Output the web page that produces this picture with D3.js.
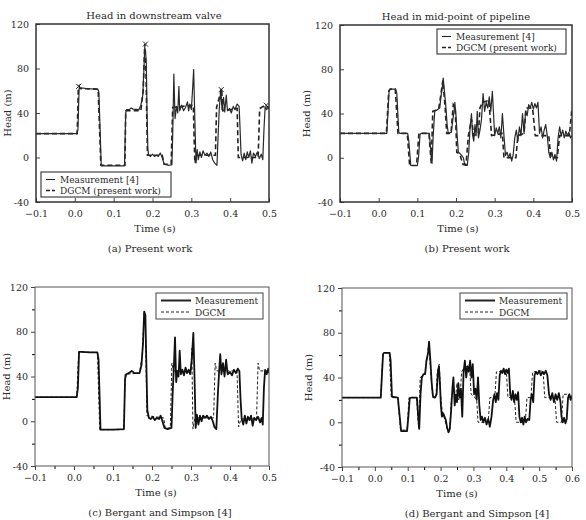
<!DOCTYPE html>
<html>
<head>
<meta charset="utf-8">
<script src="https://cdn.jsdelivr.net/npm/d3@7"></script>
<style>
  body { margin: 0; background: #fff; }
  text { font-family: "DejaVu Serif", serif; fill: #2a2a2a; }
</style>
</head>
<body>
<div id="canvas"></div>
<script>
// Time (s), Head (m) pairs
var aMeas = [[-0.1,21.5],[0.005,21.5],[0.008,25],[0.011,62],[0.015,62.5],[0.03,62],[0.05,61.5],[0.06,61],[0.062,58],[0.068,-7.5],[0.09,-7.5],[0.128,-7.5],[0.131,40],[0.133,43],[0.14,43],[0.145,44.5],[0.15,43.5],[0.165,43],[0.17,47],[0.175,56],[0.178,80],[0.18,99],[0.182,96],[0.184,85],[0.186,40],[0.188,8],[0.19,2],[0.195,1],[0.2,3],[0.205,1],[0.21,2],[0.215,1],[0.22,4],[0.225,0],[0.23,-6],[0.24,-7],[0.25,-6.5],[0.252,20],[0.255,75],[0.258,35],[0.262,46],[0.265,40],[0.268,64],[0.27,42],[0.275,47],[0.28,42],[0.285,45],[0.29,50],[0.293,42],[0.296,48],[0.3,43],[0.303,60],[0.306,79],[0.309,35],[0.312,-5],[0.315,7],[0.318,-2],[0.322,5],[0.326,0],[0.33,6],[0.335,2],[0.34,4],[0.345,1],[0.35,5],[0.355,-2],[0.36,-5],[0.366,-7],[0.369,20],[0.372,44],[0.376,61],[0.379,43],[0.383,54],[0.386,41],[0.39,56],[0.393,42],[0.398,44],[0.403,40],[0.408,46],[0.412,43],[0.418,48],[0.423,46],[0.425,30],[0.428,3],[0.432,-3],[0.436,4],[0.44,-2],[0.444,5],[0.448,0],[0.452,6],[0.456,-5],[0.46,4],[0.465,1],[0.47,5],[0.475,-1],[0.48,3],[0.484,-2],[0.487,25],[0.49,45],[0.494,43],[0.497,46],[0.5,44]];
var aDgcm = [[-0.1,21.5],[0.006,21.5],[0.009,62],[0.011,64],[0.013,62],[0.06,61.5],[0.067,-7],[0.129,-7],[0.131,42],[0.17,42],[0.176,60],[0.18,102],[0.183,80],[0.187,2],[0.225,2],[0.23,-6],[0.248,-6],[0.252,45],[0.305,47],[0.309,-5],[0.315,2],[0.362,2],[0.365,45],[0.378,62],[0.381,42],[0.418,44],[0.421,0],[0.472,0],[0.476,44],[0.49,47],[0.5,44]];
var aMarks = [[0.01,64],[0.182,102],[0.377,61],[0.493,47]];

var bMeas = [[-0.1,22],[0.021,22],[0.024,40],[0.027,61],[0.03,62],[0.044,62],[0.047,58],[0.052,23],[0.055,22],[0.075,22],[0.078,15],[0.083,-7],[0.1,-7],[0.103,0],[0.107,21],[0.11,22],[0.131,22],[0.134,10],[0.138,-5],[0.141,20],[0.145,42],[0.15,43],[0.158,45],[0.161,55],[0.164,62],[0.167,72],[0.17,60],[0.173,50],[0.177,30],[0.18,22],[0.188,23],[0.192,35],[0.195,42],[0.197,50],[0.2,38],[0.203,20],[0.206,5],[0.21,4],[0.215,2],[0.219,0],[0.223,-7],[0.229,-7],[0.233,5],[0.236,25],[0.24,40],[0.243,20],[0.246,15],[0.249,30],[0.252,20],[0.255,42],[0.258,18],[0.262,25],[0.266,35],[0.27,58],[0.274,42],[0.278,50],[0.282,45],[0.286,55],[0.29,42],[0.294,60],[0.297,40],[0.3,20],[0.304,27],[0.308,22],[0.312,28],[0.316,18],[0.32,40],[0.324,20],[0.328,2],[0.332,5],[0.336,0],[0.34,4],[0.344,-3],[0.348,3],[0.352,18],[0.356,25],[0.36,15],[0.364,28],[0.368,20],[0.372,40],[0.376,22],[0.38,42],[0.384,38],[0.388,48],[0.392,45],[0.396,50],[0.4,44],[0.404,49],[0.408,45],[0.412,50],[0.416,22],[0.42,28],[0.424,18],[0.428,25],[0.432,30],[0.436,20],[0.44,5],[0.444,0],[0.448,5],[0.452,-2],[0.456,3],[0.46,-3],[0.464,18],[0.468,28],[0.472,20],[0.476,25],[0.48,18],[0.484,24],[0.488,20],[0.492,23],[0.496,18],[0.5,20]];
var bDgcm = [[-0.1,22],[0.02,22],[0.026,60],[0.03,62],[0.043,62],[0.05,22],[0.074,22],[0.08,-7],[0.098,-7],[0.104,22],[0.13,22],[0.136,-5],[0.14,42],[0.155,44],[0.16,55],[0.166,70],[0.172,45],[0.176,22],[0.187,22],[0.193,48],[0.198,45],[0.202,5],[0.21,3],[0.218,-6],[0.226,-6],[0.232,20],[0.24,35],[0.246,20],[0.258,22],[0.262,45],[0.268,50],[0.285,52],[0.292,20],[0.32,22],[0.324,0],[0.355,0],[0.36,20],[0.376,22],[0.381,45],[0.398,45],[0.405,20],[0.44,20],[0.445,0],[0.462,0],[0.468,20],[0.493,20],[0.5,45]];

var cMeas = [[-0.1,21.5],[0.007,21.5],[0.01,30],[0.013,62],[0.02,62],[0.04,61.5],[0.06,61.5],[0.063,55],[0.068,-7.5],[0.1,-7.5],[0.128,-7],[0.131,38],[0.134,42],[0.14,43],[0.148,45],[0.155,43],[0.168,43],[0.173,50],[0.177,70],[0.18,98],[0.183,95],[0.185,60],[0.188,10],[0.192,3],[0.197,2],[0.202,4],[0.207,1],[0.212,3],[0.218,2],[0.222,5],[0.226,1],[0.232,-6],[0.24,-7],[0.25,-6],[0.253,25],[0.256,48],[0.259,75],[0.262,35],[0.265,45],[0.268,40],[0.271,63],[0.274,42],[0.278,46],[0.282,41],[0.286,48],[0.29,43],[0.294,46],[0.298,42],[0.302,55],[0.306,79],[0.309,40],[0.312,-6],[0.315,6],[0.319,-3],[0.323,5],[0.327,0],[0.331,5],[0.336,3],[0.341,5],[0.346,2],[0.351,4],[0.356,0],[0.36,-5],[0.365,-7],[0.369,25],[0.372,44],[0.375,60],[0.378,42],[0.382,52],[0.386,40],[0.39,55],[0.394,42],[0.4,44],[0.405,41],[0.41,46],[0.415,43],[0.42,47],[0.424,45],[0.427,20],[0.43,2],[0.434,-3],[0.438,5],[0.442,-2],[0.446,4],[0.45,1],[0.454,5],[0.458,-4],[0.462,3],[0.467,1],[0.472,4],[0.477,-1],[0.481,3],[0.484,-3],[0.487,30],[0.49,46],[0.494,42],[0.498,47],[0.5,43]];
var cDgcm = [[-0.1,21.5],[0.007,21.5],[0.012,62],[0.06,61.5],[0.066,-7.5],[0.128,-7.5],[0.131,42],[0.168,43],[0.175,60],[0.18,97],[0.183,90],[0.187,5],[0.23,3],[0.234,-6],[0.247,-6],[0.251,52],[0.255,45],[0.3,44],[0.302,65],[0.305,-7],[0.31,3],[0.358,3],[0.362,52],[0.366,45],[0.418,45],[0.422,-5],[0.428,2],[0.468,2],[0.472,52],[0.476,45],[0.5,45]];

var dMeas = [[-0.1,22],[0.018,22],[0.022,45],[0.025,61],[0.028,62],[0.045,62],[0.048,55],[0.052,23],[0.07,22],[0.074,10],[0.08,-8],[0.098,-8],[0.102,5],[0.106,21],[0.11,22],[0.128,22],[0.132,5],[0.135,-6],[0.139,25],[0.143,40],[0.148,43],[0.153,43],[0.157,55],[0.162,62],[0.165,72],[0.169,55],[0.173,35],[0.177,23],[0.183,22],[0.188,25],[0.192,45],[0.195,50],[0.198,35],[0.201,15],[0.204,5],[0.208,8],[0.212,5],[0.216,2],[0.22,-5],[0.224,-9],[0.228,-6],[0.232,10],[0.236,30],[0.239,40],[0.243,15],[0.247,25],[0.25,18],[0.254,35],[0.258,22],[0.262,30],[0.266,5],[0.27,45],[0.274,55],[0.278,40],[0.282,50],[0.286,45],[0.29,55],[0.294,40],[0.298,52],[0.302,25],[0.306,30],[0.31,20],[0.314,40],[0.318,15],[0.322,2],[0.326,5],[0.33,0],[0.335,4],[0.34,-2],[0.345,3],[0.35,-4],[0.355,5],[0.36,20],[0.364,25],[0.368,18],[0.372,26],[0.376,20],[0.38,42],[0.384,46],[0.388,44],[0.392,48],[0.396,43],[0.4,47],[0.404,44],[0.408,48],[0.412,25],[0.416,20],[0.42,28],[0.424,18],[0.428,25],[0.432,20],[0.436,27],[0.44,5],[0.444,0],[0.448,4],[0.452,-2],[0.456,5],[0.46,0],[0.465,3],[0.47,2],[0.474,20],[0.478,25],[0.482,18],[0.486,42],[0.49,45],[0.495,43],[0.5,46],[0.505,42],[0.51,45],[0.515,43],[0.52,46],[0.525,42],[0.53,25],[0.535,20],[0.54,26],[0.545,18],[0.55,25],[0.555,20],[0.56,26],[0.565,18],[0.568,5],[0.572,0],[0.576,4],[0.58,-1],[0.584,3],[0.588,22],[0.592,25],[0.596,20],[0.6,24]];
var dDgcm = [[-0.1,22],[0.018,22],[0.024,60],[0.028,62],[0.044,62],[0.05,22],[0.07,22],[0.078,-7],[0.098,-7],[0.104,22],[0.127,22],[0.133,-5],[0.138,40],[0.152,43],[0.158,55],[0.164,70],[0.17,45],[0.176,22],[0.186,22],[0.19,45],[0.196,52],[0.2,25],[0.205,10],[0.212,3],[0.22,-6],[0.228,-6],[0.233,22],[0.24,30],[0.245,20],[0.25,35],[0.255,20],[0.26,25],[0.264,45],[0.27,48],[0.28,50],[0.288,52],[0.293,25],[0.305,22],[0.31,20],[0.314,0],[0.345,0],[0.35,22],[0.365,22],[0.37,45],[0.4,46],[0.405,22],[0.425,22],[0.43,0],[0.458,0],[0.463,22],[0.475,22],[0.48,45],[0.512,46],[0.517,22],[0.548,22],[0.553,0],[0.568,0],[0.573,25],[0.59,25],[0.595,20],[0.6,22]];

var yTicks = [-40, 0, 40, 80, 120];
var xTicks6 = [-0.1, 0.0, 0.1, 0.2, 0.3, 0.4, 0.5];
var xTicks7 = [-0.1, 0.0, 0.1, 0.2, 0.3, 0.4, 0.5, 0.6];

var svg = d3.select('#canvas')
  .append("svg")
  .attr("width", 586)
  .attr("height", 520);

var panels = [
  { left: 36, top: 24, w: 233, h: 178, xmax: 0.5, xt: xTicks6, meas: aMeas, dgcm: aDgcm, marks: aMarks,
    title: "Head in downstream valve", caption: "(a) Present work", style: "present",
    leg: { x: 41, y: 172, w: 130, h: 25 }, labels: ["Measurement [4]", "DGCM (present work)"],
    ylab: 11, titleX: 154, timeX: 155, capX: 150 },
  { left: 340, top: 25, w: 232, h: 177, xmax: 0.5, xt: xTicks6, meas: bMeas, dgcm: bDgcm,
    title: "Head in mid-point of pipeline", caption: "(b) Present work", style: "present",
    leg: { x: 437, y: 29, w: 129, h: 25 }, labels: ["Measurement [4]", "DGCM (present work)"],
    ylab: 310, titleX: 456, timeX: 458, capX: 467 },
  { left: 35, top: 287, w: 234, h: 179, xmax: 0.5, xt: xTicks6, meas: cMeas, dgcm: cDgcm,
    caption: "(c) Bergant and Simpson [4]", style: "bergant",
    leg: { x: 156, y: 293, w: 107, h: 26 }, labels: ["Measurement", "DGCM"],
    ylab: 10, timeX: 156, capX: 160 },
  { left: 342, top: 288, w: 230, h: 179, xmax: 0.6, xt: xTicks7, meas: dMeas, dgcm: dDgcm,
    caption: "(d) Bergant and Simpson [4]", style: "bergant",
    leg: { x: 460, y: 293, w: 107, h: 26 }, labels: ["Measurement", "DGCM"],
    ylab: 312, timeX: 457, capX: 477 }
];

panels.forEach(p => {
  var x = d3.scaleLinear().domain([-0.1, p.xmax]).range([p.left, p.left + p.w]);
  var y = d3.scaleLinear().domain([-40, 120]).range([p.top + p.h, p.top]);
  var pres = p.style == "present";

  var line = d3.line().x(d => x(d[0])).y(d => y(d[1]));

  // clip so the traces stay inside the frame
  var cid = "clip" + p.left + p.top;
  svg.append("clipPath").attr("id", cid)
    .append("rect").attr("x", p.left).attr("y", p.top).attr("width", p.w).attr("height", p.h);

  var g = svg.append("g").attr("clip-path", "url(#" + cid + ")");

  g.append("path").datum(p.dgcm)
    .attr("d", line)
    .attr("fill", "none")
    .attr("stroke", "#222")
    .attr("stroke-width", pres ? 1.6 : 1)
    .attr("stroke-dasharray", pres ? "5,3" : "3,2");

  g.append("path").datum(p.meas)
    .attr("d", line)
    .attr("fill", "none")
    .attr("stroke", pres ? "#2a2a2a" : "#111")
    .attr("stroke-width", pres ? 1.2 : 1.8)
    .attr("stroke-linejoin", "round");

  if (p.marks) {
    g.selectAll(".mk").data(p.marks).enter()
      .append("path")
      .attr("d", d3.symbol().type(d3.symbolX).size(18))
      .attr("transform", d => "translate(" + x(d[0]) + "," + y(d[1]) + ")")
      .attr("stroke", "#222")
      .attr("stroke-width", 1);
  }

  // axes: major ticks with labels, minor ticks for the Bergant panels
  var xAxis = d3.axisBottom(x).tickValues(p.xt).tickFormat(d3.format(".1f"))
    .tickSize(pres ? -4 : 4).tickPadding(pres ? 8 : 4);
  var yAxis = d3.axisLeft(y).tickValues(yTicks).tickFormat(d => d)
    .tickSize(pres ? -4 : 4).tickPadding(pres ? 7 : 3);

  var gx = svg.append("g").attr("transform", "translate(0," + (p.top + p.h) + ")").call(xAxis);
  var gy = svg.append("g").attr("transform", "translate(" + p.left + ",0)").call(yAxis);

  if (!pres) {
    var minorX = d3.range(-0.05, p.xmax, 0.1);
    var minorY = [-20, 20, 60, 100];
    svg.append("g").attr("transform", "translate(0," + (p.top + p.h) + ")")
      .call(d3.axisBottom(x).tickValues(minorX).tickFormat("").tickSize(3));
    svg.append("g").attr("transform", "translate(" + p.left + ",0)")
      .call(d3.axisLeft(y).tickValues(minorY).tickFormat("").tickSize(3));
  }

  [gx, gy].forEach(a => {
    a.selectAll("line").attr("stroke", "#444");
    a.selectAll("text")
      .style("font-family", "DejaVu Serif, serif")
      .style("font-size", "9.5px")
      .attr("fill", "#2a2a2a");
  });
  svg.selectAll(".domain").remove();

  // frame
  svg.append("rect")
    .attr("x", p.left).attr("y", p.top).attr("width", p.w).attr("height", p.h)
    .attr("fill", "none")
    .attr("stroke", pres ? "#333" : "#555")
    .attr("stroke-width", pres ? 1.5 : 1);

  // legend
  var L = p.leg;
  svg.append("rect")
    .attr("x", L.x).attr("y", L.y).attr("width", L.w).attr("height", L.h)
    .attr("fill", "#fff").attr("stroke", "#444").attr("stroke-width", pres ? 1.2 : 1);
  var sampleW = pres ? 9 : 30;
  [0, 1].forEach(i => {
    var ly = L.y + 7.5 + i * (pres ? 11 : 11.5);
    svg.append("line")
      .attr("x1", L.x + 5).attr("x2", L.x + 5 + sampleW)
      .attr("y1", ly).attr("y2", ly)
      .attr("stroke", "#222")
      .attr("stroke-width", i == 0 ? (pres ? 1.1 : 2) : (pres ? 1.6 : 1))
      .attr("stroke-dasharray", i == 0 ? null : (pres ? "4,2" : "3,2"));
    svg.append("text")
      .attr("x", L.x + (pres ? 10 : 9) + sampleW).attr("y", ly + 3.5)
      .style("font-size", "9px")
      .text(p.labels[i]);
  });

  // titles and captions
  if (p.title) {
    svg.append("text")
      .attr("x", p.titleX).attr("y", p.top - 5)
      .attr("text-anchor", "middle")
      .style("font-size", "10px")
      .text(p.title);
  }
  svg.append("text")
    .attr("x", p.timeX).attr("y", p.top + p.h + 30)
    .attr("text-anchor", "middle")
    .style("font-size", "10px")
    .text("Time (s)");
  svg.append("text")
    .attr("x", p.capX).attr("y", p.top + p.h + 50)
    .attr("text-anchor", "middle")
    .style("font-size", "10px")
    .text(p.caption);
  svg.append("text")
    .attr("transform", "translate(" + p.ylab + "," + (p.top + p.h / 2) + ") rotate(-90)")
    .attr("text-anchor", "middle")
    .style("font-size", "10px")
    .text("Head (m)");
});
</script>
</body>
</html>
